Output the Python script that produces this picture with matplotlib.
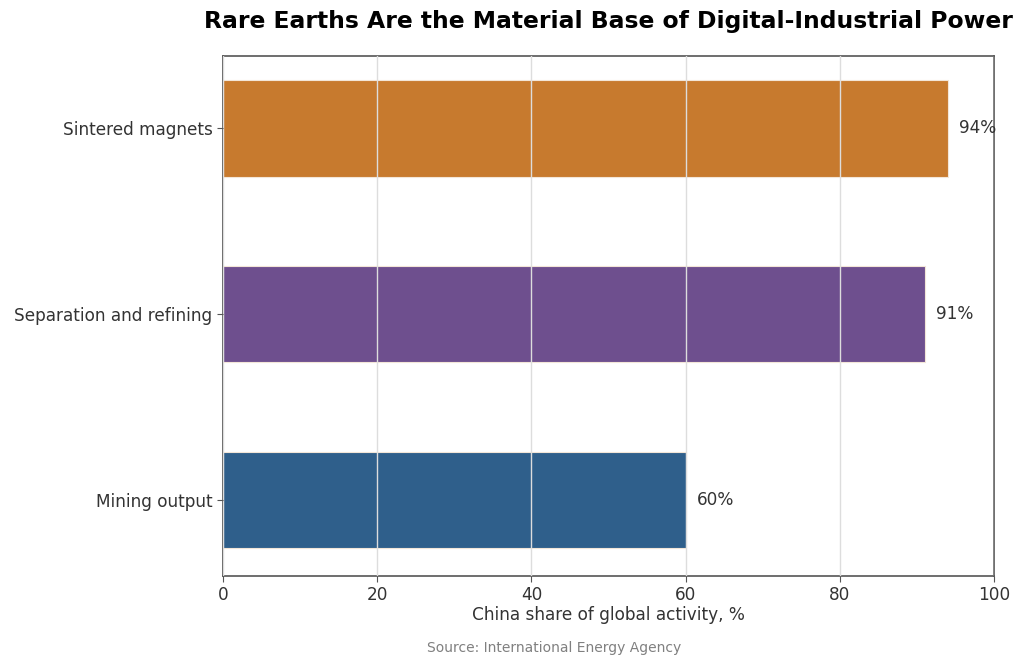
import matplotlib.pyplot as plt

# data
stages = ['Mining output', 'Separation and refining', 'Sintered magnets']
shares = [60, 91, 94]
colors = ['#2f5f8b', '#6e4f8e', '#c77a2e']

fig = plt.figure(figsize=(10.24, 6.68), dpi=100)
ax = fig.add_axes([0.2178, 0.1377, 0.7529, 0.7785])

bars = ax.barh(stages, shares, height=0.52, color=colors,
               edgecolor='#f3e6d8', linewidth=0.8, zorder=1)

# value labels
for bar, val in zip(bars, shares):
    ax.text(val + 1.5, bar.get_y() + bar.get_height() / 2, f'{val}%',
            va='center', ha='left', fontsize=12.2, color='#333333')

ax.set_xlim(0, 100)
ax.set_ylim(-0.41, 2.39)
ax.set_xticks([0, 20, 40, 60, 80, 100])
ax.grid(axis='x', color='#dddddd', linewidth=1, zorder=2)
ax.set_axisbelow(False)

for sp in ax.spines.values():
    sp.set_color('#555555')
    sp.set_linewidth(1.2)
ax.tick_params(colors='#555555', labelcolor='#333333', labelsize=12.2, length=4)

ax.set_xlabel('China share of global activity, %', fontsize=12.2, color='#333333',
              labelpad=1)
ax.set_title('Rare Earths Are the Material Base of Digital-Industrial Power',
             fontsize=16.9, fontweight='bold', pad=20)

fig.text(554 / 1024, 1 - 648 / 668, 'Source: International Energy Agency',
         ha='center', va='center', fontsize=10, color='#808080')

fig.savefig('out.png', dpi=100)
